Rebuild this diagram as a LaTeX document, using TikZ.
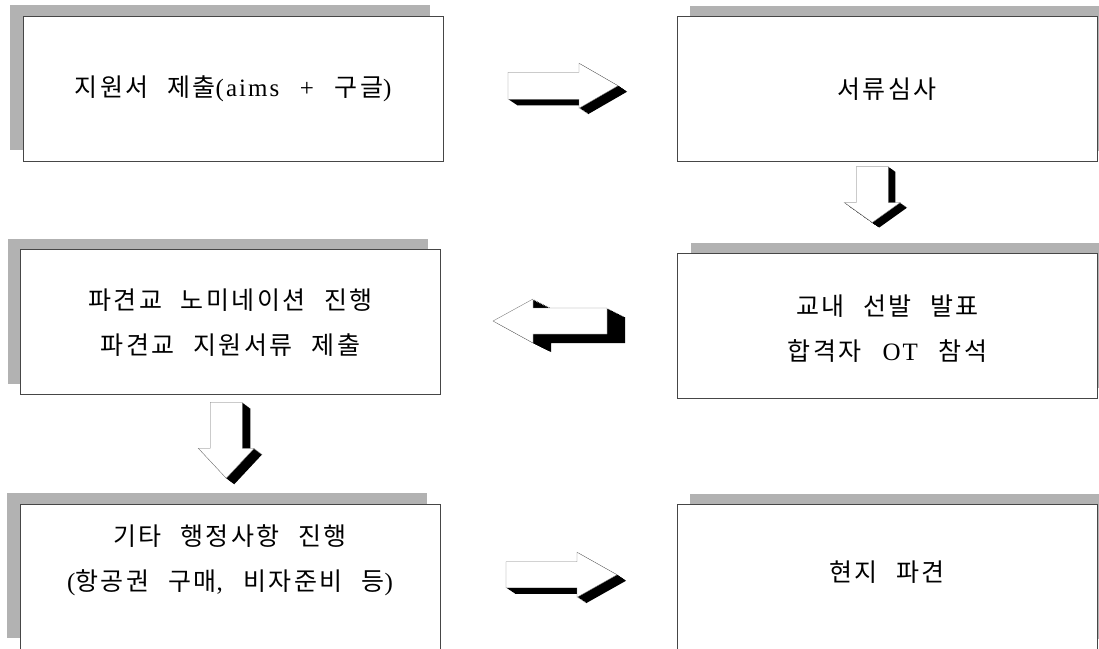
\documentclass[tikz,border=0pt]{standalone}
\usepackage{fontspec}
\setmainfont{Liberation Serif}[LetterSpace=8,WordSpace=2.5]
\newfontfamily\kr{Noto Sans CJK KR}[LetterSpace=10,WordSpace=2.3]
\usetikzlibrary{calc,shadows}
\definecolor{shadowgray}{RGB}{178,178,178}
\definecolor{framegray}{RGB}{70,70,70}

% block arrow: center, angle, half length, head start, shaft half width, head half width, shadow dx, shadow dy
\newcommand{\blockarrow}[8]{%
  \begin{scope}[shift={#1}]
    \foreach \s in {1,...,12}
      \fill[black, shift={({#7*\s/12},{#8*\s/12})}, rotate=#2]
        (-#3,-#5) -- (#4,-#5) -- (#4,-#6) -- (#3,0) -- (#4,#6) -- (#4,#5) -- (-#3,#5) -- cycle;
    \filldraw[fill=white, draw=gray, thin, rotate=#2]
        (-#3,-#5) -- (#4,-#5) -- (#4,-#6) -- (#3,0) -- (#4,#6) -- (#4,#5) -- (-#3,#5) -- cycle;
  \end{scope}}

\begin{document}
\begin{tikzpicture}[x=1pt, y=-1pt,
        box/.style ={draw=framegray, fill=white, line width=0.8pt, inner sep=0pt,
                minimum width=420, minimum height=145},
        lbox/.style ={box, drop shadow={shadow xshift=-13pt, shadow yshift=11pt, fill=shadowgray, opacity=1}},
        rbox/.style ={box, drop shadow={shadow xshift=13pt, shadow yshift=11pt, fill=shadowgray, opacity=1}},
        txt/.style ={align=center, font=\fontsize{25}{45}\selectfont}]

    \clip (0,0) rectangle (1099,648);

    %cajas
    \node[lbox] (b1) at (233, 88.5) {};
    \node[rbox] (b2) at (887, 89) {};
    \node[lbox] (b3) at (230.5, 322) {};
    \node[rbox] (b4) at (887.5, 326) {};
    \node[lbox] (b5) at (230, 576.5) {};
    \node[rbox] (b6) at (887, 577) {};

    %textos
    \node[txt] (t1) at (b1.center) {{\kr 지원서 제출}(aims + {\kr 구글})};
    \node[txt] (t2) at (b2.center) {\kr 서류심사};
    \node[txt] (t3) at ($(b3.center)+(0,0.5)$) {{\kr 파견교 노미네이션 진행}\\{\kr 파견교 지원서류 제출}};
    \node[txt] (t4) at ($(b4.center)+(0,2.5)$) {{\kr 교내 선발 발표}\\{\kr 합격자} OT {\kr 참석}};
    \node[txt] (t5) at ($(b5.center)+(0,-16)$) {{\kr 기타 행정사항 진행}\\({\kr 항공권 구매}, {\kr 비자준비 등})};
    \node[txt] (t6) at ($(b6.center)+(0,-5)$) {\kr 현지 파견};

    %flechas
    \blockarrow{($(b1.east)!0.5!(b2.west)+(3,-3)$)}{0}{55}{16}{13.5}{22.5}{9}{6}
    \blockarrow{($(b2.south)!0.5!(b4.north)+(-15,-13)$)}{-90}{28}{8}{16}{28}{7}{5}
    \blockarrow{($(b3.east)!0.5!(b4.west)+(-9,-3)$)}{180}{57}{17}{13}{22}{18}{9}
    \blockarrow{($(b3.south)!0.5!(b5.north)+(-4,-9)$)}{-90}{38}{8}{16}{28}{8}{6}
    \blockarrow{($(b5.east)!0.5!(b6.west)+(3,-2)$)}{0}{55.5}{15.5}{13}{22.5}{9}{6}
\end{tikzpicture}
\end{document}
